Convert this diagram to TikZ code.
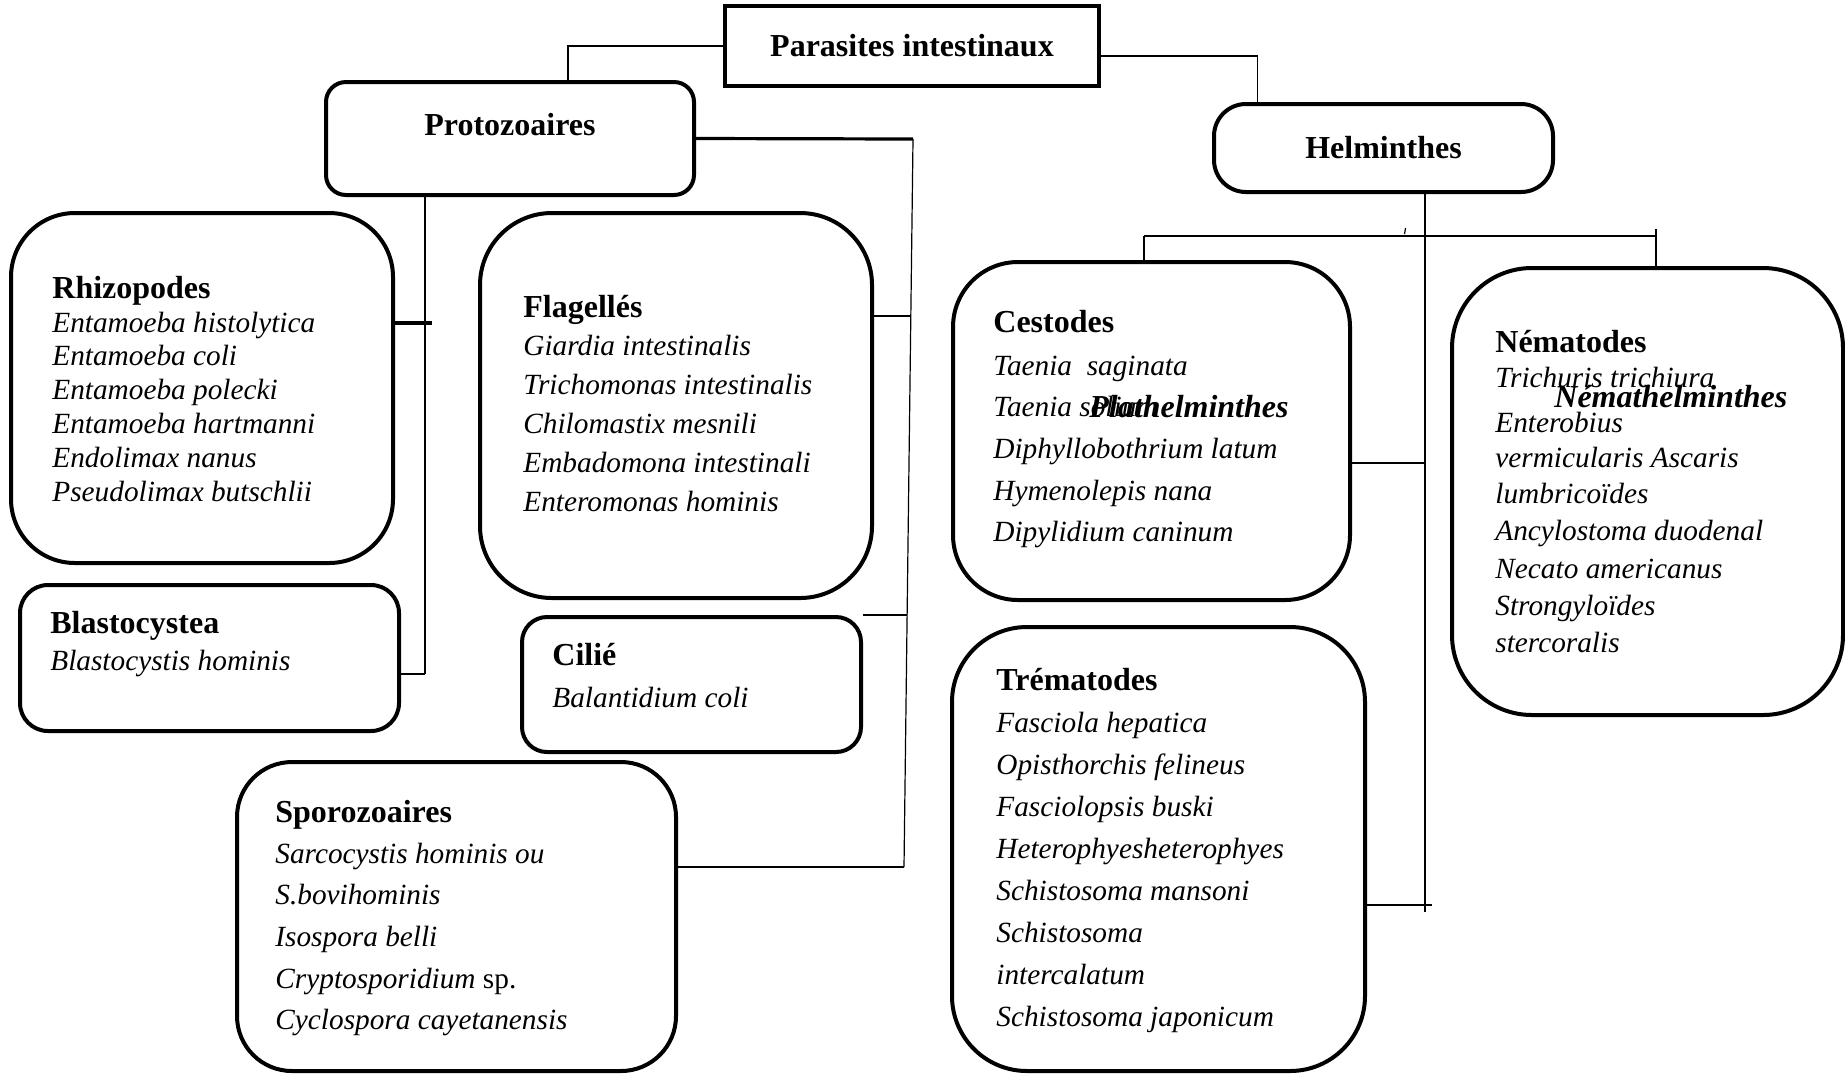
\documentclass[tikz,border=0pt]{standalone}
\usepackage{fontspec}
\setmainfont{Liberation Serif}
\usetikzlibrary{positioning,calc}

\tikzset{
  cadre/.style={draw, line width=2pt, inner sep=0pt},
  boite/.style={draw, line width=2pt, rounded corners=#1, inner sep=0pt},
  titre/.style={font=\fontsize{16}{19}\selectfont\bfseries, anchor=base west, inner sep=0pt},
  espece/.style={font=\fontsize{14.65}{17}\selectfont\itshape, anchor=base west, inner sep=0pt},
  embranchement/.style={font=\fontsize{16}{19}\selectfont\bfseries\itshape, anchor=base west, inner sep=0pt},
  lien/.style={line width=0.6pt},
  lien moyen/.style={line width=1pt},
  lien epais/.style={line width=1.6pt}
}

\begin{document}
\begin{tikzpicture}[x=0.5pt, y=-0.5pt]
    \useasboundingbox (0,0) rectangle (1845,1073);

    % Racine
    \node[cadre, minimum width=187pt, minimum height=40pt, font=\fontsize{16}{19}\selectfont\bfseries] (parasites) at (912,46) {Parasites intestinaux};

    % Protozoaires
    \node[boite=10pt, minimum width=184pt, minimum height=56.5pt] (proto) at (510,138.5) {};
    \node[titre, anchor=base] (proto-t) at (510,135) {Protozoaires};

    % Helminthes
    \node[boite=16pt, minimum width=169.5pt, minimum height=44pt, font=\fontsize{16}{19}\selectfont\bfseries] (helm) at (1383.5,148) {Helminthes};

    % Rhizopodes
    \node[boite=32pt, minimum width=191pt, minimum height=175pt] (rhizo) at (202,388) {};
    \node[titre] (rhizo-t) at (52,298) {Rhizopodes};
    \foreach \nom [count=\i from 0] in {Entamoeba histolytica, Entamoeba coli, Entamoeba polecki, Entamoeba hartmanni, Endolimax nanus, Pseudolimax butschlii}
        \node[espece] (rhizo-\i) at (52,{332+33.8*\i}) {\nom};

    % Blastocystea
    \node[boite=14pt, minimum width=189.5pt, minimum height=73pt] (blasto) at (209.5,658) {};
    \node[titre] (blasto-t) at (50,633) {Blastocystea};
    \node[espece] (blasto-0) at (50,670) {Blastocystis hominis};

    % Flagelles
    \node[boite=36pt, minimum width=196pt, minimum height=192.5pt] (flag) at (676,405.5) {};
    \node[titre] (flag-t) at (523,317) {Flagellés};
    \foreach \nom [count=\i from 0] in {Giardia intestinalis, Trichomonas intestinalis, Chilomastix mesnili, Embadomona intestinali, Enteromonas hominis}
        \node[espece] (flag-\i) at (523,{355+39*\i}) {\nom};

    % Cilie
    \node[boite=12.5pt, minimum width=169.5pt, minimum height=67.5pt] (cilie) at (691.5,684.5) {};
    \node[titre] (cilie-t) at (552,665) {Cilié};
    \node[espece] (cilie-0) at (552,707) {Balantidium coli};

    % Sporozoaires
    \node[boite=27.5pt, minimum width=219.5pt, minimum height=154.5pt] (sporo) at (456.5,916.5) {};
    \node[titre] (sporo-t) at (275,822) {Sporozoaires};
    \foreach \nom [count=\i from 0] in {Sarcocystis hominis ou, S.bovihominis, Isospora belli, {Cryptosporidium \upshape sp.}, Cyclospora cayetanensis}
        \node[espece] (sporo-\i) at (275,{863+41.7*\i}) {\nom};

    % Cestodes
    \node[boite=32.5pt, minimum width=198.5pt, minimum height=169pt] (cest) at (1151.5,431) {};
    \node[titre] (cest-t) at (993,332) {Cestodes};
    \foreach \nom [count=\i from 0] in {Taenia\ \ saginata, Taenia solium, Diphyllobothrium latum, Hymenolepis nana, Dipylidium caninum}
        \node[espece] (cest-\i) at (993,{375+41.7*\i}) {\nom};
    \node[embranchement] (plathel) at (1089,417) {Plathelminthes};

    % Trematodes
    \node[boite=37.5pt, minimum width=206.5pt, minimum height=222pt] (trem) at (1158.5,849) {};
    \node[titre] (trem-t) at (996,690) {Trématodes};
    \foreach \nom [count=\i from 0] in {Fasciola hepatica, Opisthorchis felineus, Fasciolopsis buski, Heterophyesheterophyes, Schistosoma mansoni, Schistosoma, intercalatum, Schistosoma japonicum}
        \node[espece] (trem-\i) at (996,{732+42.1*\i}) {\nom};

    % Nematodes
    \node[boite=40pt, minimum width=195.5pt, minimum height=223.5pt] (nema) at (1647.5,491.5) {};
    \node[titre] (nema-t) at (1495,352) {Nématodes};
    \foreach \nom/\yy [count=\i] in {Trichuris trichiura/387, Enterobius/432, vermicularis Ascaris/467, lumbricoïdes/503, Ancylostoma duodenal/540, Necato americanus/578, Strongyloïdes/615, stercoralis/652}
        \node[espece] (nema-\i) at (1495,\yy) {\nom};
    \node[embranchement] (nemathel) at (1554,407) {Némathelminthes};

    % Liens racine
    \draw[lien] (parasites.west) -| ([xshift=29pt]proto.north);
    \draw[lien] ([yshift=-5pt]parasites.east) -| ([xshift=-63pt]helm.north);

    % Liens protozoaires
    \coordinate (busP) at (913,139);
    \coordinate (busF) at (911,316);
    \coordinate (busCi) at (907,615);
    \coordinate (busS) at (904,867);
    \coordinate (busR) at (432,323);
    \coordinate (busB) at (425,674);
    \draw[lien epais] (proto.east) -- (busP);
    \draw[lien] (busP) -- (busS);
    \draw[lien] (flag.east |- busF) -- (busF);
    \draw[lien] (cilie.east |- busCi) -- (busCi);
    \draw[lien moyen] (sporo.east |- busS) -- (busS);
    \draw[lien] (proto.south -| busB) -- (busB);
    \draw[lien epais] (rhizo.east |- busR) -- (busR);
    \draw[lien] (blasto.east |- busB) -- (busB);

    % Liens helminthes
    \coordinate (busH) at (1425,912);
    \coordinate (barG) at (1144,236);
    \coordinate (barD) at (1656,236);
    \coordinate (busC) at (1425,463);
    \coordinate (busT) at (1432,905);
    \draw[lien] (helm.south -| busH) -- (busH);
    \draw[lien moyen] (barG) -- (barD);
    \draw[lien] (barG) -- (barG |- cest.north);
    \draw[lien] ([yshift=3.5pt]barD) -- (barD |- nema.north);
    \draw[lien] (1405.5,228) -- (1404.5,234);
    \draw[lien moyen] (cest.east |- busC) -- (busC);
    \draw[lien moyen] (trem.east |- busT) -- (busT);
\end{tikzpicture}
\end{document}
